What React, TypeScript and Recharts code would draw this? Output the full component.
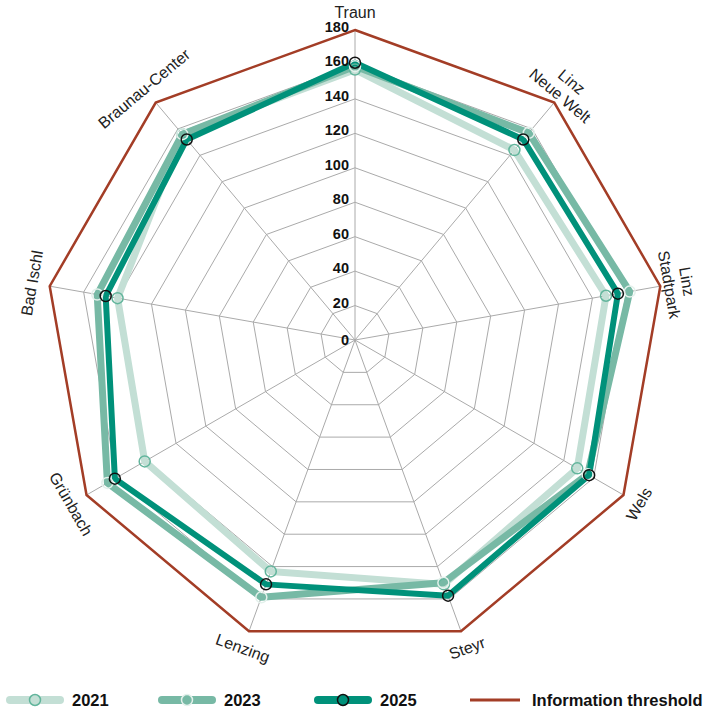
import React from 'react'
import { RadarChart, Radar, PolarGrid, PolarAngleAxis, PolarRadiusAxis, Legend } from 'recharts'

const sites = ['Traun', 'Linz Neue Welt', 'Linz Stadtpark', 'Wels', 'Steyr', 'Lenzing', 'Grünbach', 'Bad Ischl', 'Braunau-Center']
const siteLabels = [['Traun'], ['Linz', 'Neue Welt'], ['Linz', 'Stadtpark'], ['Wels'], ['Steyr'], ['Lenzing'], ['Grünbach'], ['Bad Ischl'], ['Braunau-Center']]
const values2021 = [157, 144, 148, 149, 151, 143, 141, 140, 156]
const values2023 = [159, 157, 162, 156, 150, 159, 166, 152, 156]
const values2025 = [161, 152, 155, 157, 158, 151, 161, 147, 152]
const thresholdValue = 180
const radiusTicks = [0, 20, 40, 60, 80, 100, 120, 140, 160, 180]

const data = sites.map((site, i) => ({
  site,
  y2021: values2021[i],
  y2023: values2023[i],
  y2025: values2025[i],
  threshold: thresholdValue,
}))

const CX = 355
const CY = 340
const R = 310
const FONT = 'Liberation Sans, Arial, sans-serif'

const C2021 = '#c3dfd5'
const C2023 = '#77b9a5'
const C2025 = '#00917a'
const CTHR = '#a33d26'

function SiteTick(props: any) {
  const { payload } = props
  let idx = sites.indexOf(payload?.value)
  if (idx < 0) idx = props.index ?? 0
  const angle = 90 - idx * 360 / sites.length
  const rad = angle * Math.PI / 180
  const x = CX + (R + 18) * Math.cos(rad)
  const y = CY - (R + 18) * Math.sin(rad)
  let rot = 90 - angle
  while (rot > 90) rot -= 180
  while (rot <= -90) rot += 180
  const lines = siteLabels[idx]
  const lh = 18
  return (
    <text transform={`translate(${x},${y}) rotate(${rot})`} textAnchor="middle" fontSize={16} fill="#222" fontFamily={FONT}>
      {lines.map((l, k) => (
        <tspan key={k} x={0} y={(k - (lines.length - 1) / 2) * lh + 5.5}>{l}</tspan>
      ))}
    </text>
  )
}

function ValueTick(props: any) {
  const { x, y, payload } = props
  const off = payload.value === 0 ? 0 : -3
  return (
    <text x={x - 6} y={y + off + 5} textAnchor="end" fontSize={14.5} fontWeight="bold" fill="#111" fontFamily={FONT}>
      {payload.value}
    </text>
  )
}

function LegendRow() {
  const items = [
    { label: '2021', color: C2021, dot: { fill: C2021, stroke: '#62b59c' } },
    { label: '2023', color: C2023, dot: { fill: C2023, stroke: '#e4f1ec' } },
    { label: '2025', color: C2025, dot: { fill: C2025, stroke: '#111' } },
    { label: 'Information threshold', color: CTHR, dot: null },
  ]
  const xs = [10, 162, 318, 470]
  return (
    <svg width={704} height={24} style={{ display: 'block' }}>
      {items.map((it, i) => (
        <g key={it.label} transform={`translate(${xs[i]},12)`}>
          <line x1={0} y1={0} x2={50} y2={0} stroke={it.color} strokeWidth={it.dot ? 8 : 3} strokeLinecap={it.dot ? 'round' : 'butt'} />
          {it.dot && <circle cx={25} cy={0} r={5.5} fill={it.dot.fill} stroke={it.dot.stroke} strokeWidth={1.5} />}
          <text x={62} y={6} fontSize={16.5} fontWeight="bold" fill="#111" fontFamily={FONT}>{it.label}</text>
        </g>
      ))}
    </svg>
  )
}

export default function App() {
  return (
    <div style={{ position: 'absolute', left: 0, top: 0, width: 704, height: 711, background: '#fff' }}>
      <RadarChart width={704} height={711} data={data} cx={CX} cy={CY} outerRadius={R} startAngle={90} endAngle={-270}>
        <PolarGrid gridType="polygon" stroke="#aaaaaa" strokeWidth={1} />
        <PolarAngleAxis dataKey="site" tick={<SiteTick />} tickLine={false} axisLine={false} />
        <PolarRadiusAxis angle={90} domain={[0, 180]} ticks={radiusTicks as any} tickCount={10} tick={<ValueTick />} axisLine={false} tickLine={false} />
        <Radar dataKey="y2021" name="2021" stroke={C2021} strokeWidth={7} fill="none" fillOpacity={0} strokeLinejoin="round"
          dot={{ r: 5.5, fill: C2021, stroke: '#62b59c', strokeWidth: 1.5 }} isAnimationActive={false} />
        <Radar dataKey="y2023" name="2023" stroke={C2023} strokeWidth={7} fill="none" fillOpacity={0} strokeLinejoin="round"
          dot={{ r: 5.5, fill: C2023, stroke: '#e4f1ec', strokeWidth: 1.5 }} isAnimationActive={false} />
        <Radar dataKey="y2025" name="2025" stroke={C2025} strokeWidth={6} fill="none" fillOpacity={0} strokeLinejoin="round"
          dot={{ r: 5.5, fill: C2025, stroke: '#111', strokeWidth: 1.5 }} isAnimationActive={false} />
        <Radar dataKey="threshold" name="Information threshold" stroke={CTHR} strokeWidth={2.5} fill="none" fillOpacity={0} dot={false} isAnimationActive={false} />
        <Legend content={() => <LegendRow />} wrapperStyle={{ position: 'absolute', left: 0, top: 688, width: 704 }} />
      </RadarChart>
    </div>
  )
}
